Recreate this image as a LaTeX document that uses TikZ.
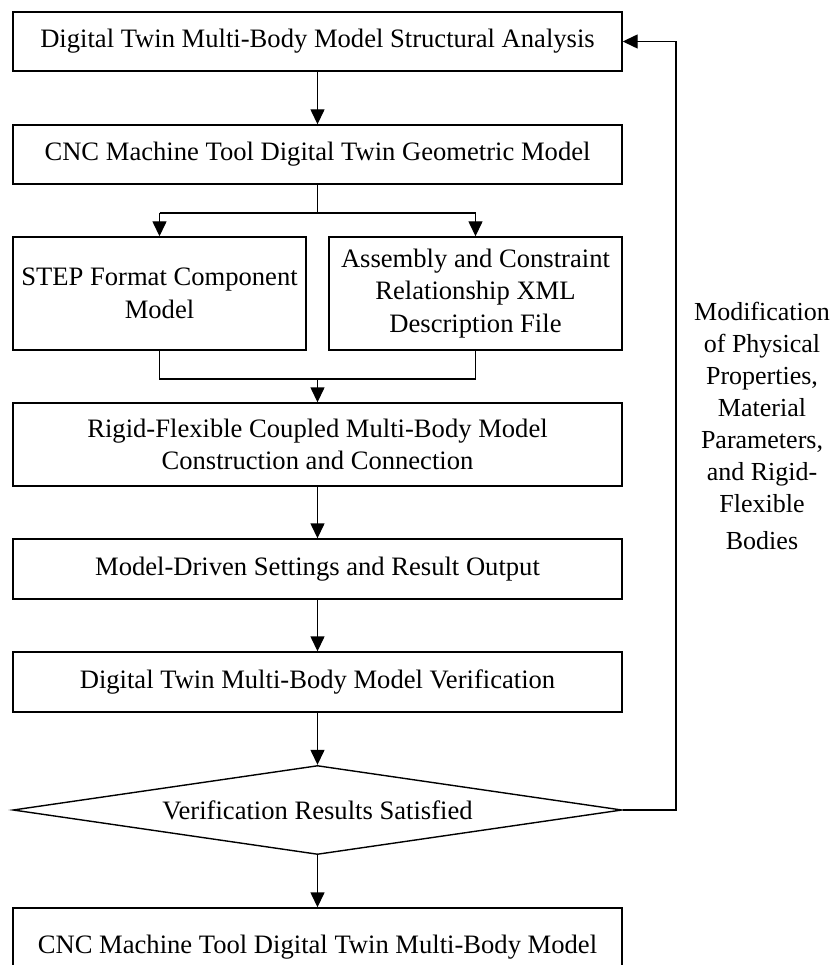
\documentclass[tikz,border=0pt]{standalone}
\usepackage{fontspec}
\setmainfont{Liberation Serif}
\usetikzlibrary{arrows.meta,shapes.geometric}

\tikzset{
  flowbox/.style={draw, line width=1.4pt, rectangle, inner sep=0pt, align=center,
    font=\fontsize{26.6}{32.5}\selectfont},
  decision/.style={draw, line width=1.4pt, diamond, inner sep=0pt, align=center,
    shape aspect=6.8, minimum width=609pt, minimum height=89pt,
    font=\fontsize{26.6}{32.5}\selectfont},
  link/.style={line width=1.4pt},
  flow/.style={link, -{Triangle[length=15pt,width=14pt]}},
  note/.style={align=center, font=\fontsize{26}{32}\selectfont}
}

\begin{document}
\begin{tikzpicture}[x=1pt, y=-1pt]
  \useasboundingbox (0,0) rectangle (834,965);
  \begin{scope}
    \clip (0,0) rectangle (834,965);

    % main chain of process steps
    \node[flowbox, minimum width=609pt, minimum height=59pt] (struct) at (317.5,41.5)
      {Digital Twin Multi-Body Model Structural Analysis};
    \node[flowbox, minimum width=609pt, minimum height=59pt] (geom) at (317.5,154.5)
      {CNC Machine Tool Digital Twin Geometric Model};
    \node[flowbox, minimum width=293pt, minimum height=113pt] (step) at (159.5,293.5)
      {STEP Format Component\\Model};
    \node[flowbox, minimum width=293pt, minimum height=113pt] (xml) at (475.5,293.5)
      {Assembly and Constraint\\Relationship XML\\Description File};
    \node[flowbox, minimum width=609pt, minimum height=83pt] (rigid) at (317.5,444.5)
      {Rigid-Flexible Coupled Multi-Body Model\\Construction and Connection};
    \node[flowbox, minimum width=609pt, minimum height=60pt] (drive) at (317.5,569)
      {Model-Driven Settings and Result Output};
    \node[flowbox, minimum width=609pt, minimum height=60pt] (verify) at (317.5,682)
      {Digital Twin Multi-Body Model Verification};
    \node[decision] (ok) at (317.5,810) {Verification Results Satisfied};
    \node[flowbox, minimum width=609pt, minimum height=78pt] (final) at (317.5,947)
      {CNC Machine Tool Digital Twin Multi-Body Model};

    % side note for the feedback loop
    \node[note] (mod) at (762,426)
      {Modification\\of Physical\\Properties,\\Material\\Parameters,\\and Rigid-\\Flexible\\[5pt]Bodies};

    % junction points
    \coordinate (split) at (317.5,213);
    \coordinate (splitL) at (159.5,213);
    \coordinate (splitR) at (475.5,213);
    \coordinate (joinL) at (159.5,379);
    \coordinate (joinR) at (475.5,379);
    \coordinate (join) at (317.5,379);
    \coordinate (backB) at (676,810);
    \coordinate (backT) at (676,41.5);

    % connectors
    \draw[flow] (struct) -- (geom);
    \draw[link] (geom.south) -- (split);
    \draw[link] (splitL) -- (splitR);
    \draw[flow] (splitL) -- (step.north);
    \draw[flow] (splitR) -- (xml.north);
    \draw[link] (step.south) -- (joinL) -- (joinR) -- (xml.south);
    \draw[flow] (join) -- (rigid.north);
    \draw[flow] (rigid) -- (drive);
    \draw[flow] (drive) -- (verify);
    \draw[flow] (verify.south) -- (ok.north);
    \draw[flow] (ok.south) -- (final.north);
    \draw[link] (ok.east) -- (backB) -- (backT);
    \draw[flow] (backT) -- (struct.east);
  \end{scope}
\end{tikzpicture}
\end{document}
